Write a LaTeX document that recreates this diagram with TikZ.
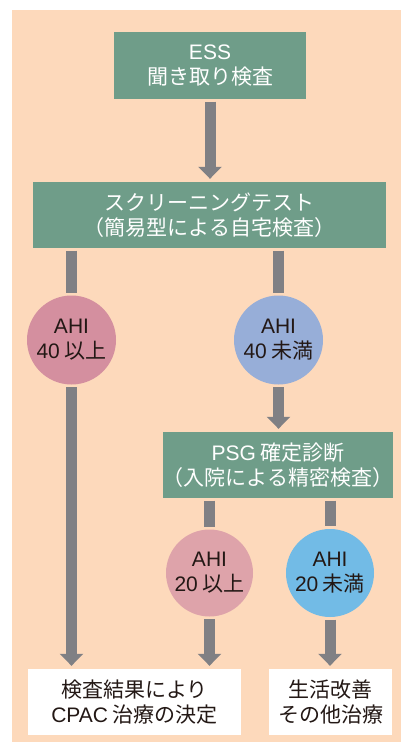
\documentclass[tikz,border=0pt]{standalone}
\usepackage{fontspec}
\setmainfont{Noto Sans CJK JP}
\newfontfamily\latinf{Liberation Sans}
\usetikzlibrary{arrows.meta}
\definecolor{peach}{HTML}{FDD9BB}
\definecolor{boxgreen}{HTML}{6F9D89}
\definecolor{arrowgray}{HTML}{808084}
\definecolor{pinkA}{HTML}{D48F9F}
\definecolor{blueA}{HTML}{97AED8}
\definecolor{pinkB}{HTML}{DEA3AA}
\definecolor{blueB}{HTML}{72BBE6}
\definecolor{darktext}{HTML}{231815}
\newcommand{\diagfont}{\fontsize{21}{25}\selectfont}
\newcommand{\lt}[1]{{\latinf #1}\hspace{0.22em}}
\tikzset{
  greenbox/.style={fill=boxgreen, text=white, inner sep=0pt, align=center, font=\diagfont},
  whitebox/.style={fill=white, text=darktext, inner sep=0pt, align=center, font=\diagfont},
  ahi/.style={circle, inner sep=0pt, align=center, text=darktext, font=\diagfont},
  shaft/.style={draw=arrowgray, line width=11pt, shorten <=2.5pt, shorten >=2.5pt},
  flowarrow/.style={draw=arrowgray, line width=11pt, shorten <=2.5pt, shorten >=3pt, -{Triangle[width=23pt,length=12pt]}}
}
\begin{document}
\begin{tikzpicture}[x=1pt,y=-1pt]
\useasboundingbox (0,0) rectangle (401,743);
\fill[white] (0,0) rectangle (401,743);
\fill[peach] (12,10) rectangle (401,742);

\node[greenbox, minimum width=192pt, minimum height=67pt] (ess) at (210,65.5) {{\latinf ESS}\\聞き取り検査};
\node[greenbox, minimum width=353pt, minimum height=66pt] (scr) at (209.5,215) {スクリーニングテスト\\（簡易型による自宅検査）};
\node[ahi, fill=pinkA, minimum size=89pt] (c1) at (71.5,340) {{\latinf AHI}\\\lt{40}以上};
\node[ahi, fill=blueA, minimum size=89pt] (c2) at (278.5,340) {{\latinf AHI}\\\lt{40}未満};
\node[greenbox, minimum width=228pt, minimum height=66pt] (psg) at (278,465) {\lt{PSG}確定診断\\（入院による精密検査）};
\node[ahi, fill=pinkB, minimum size=87pt] (c3) at (209.5,573) {{\latinf AHI}\\\lt{20}以上};
\node[ahi, fill=blueB, minimum size=88pt] (c4) at (330,573) {{\latinf AHI}\\\lt{20}未満};
\node[whitebox, minimum width=213pt, minimum height=66pt] (bl) at (134.5,702) {検査結果により\\\lt{CPAC}治療の決定};
\node[whitebox, minimum width=123pt, minimum height=66pt] (br) at (330.5,702) {生活改善\\その他治療};

\draw[flowarrow] (ess.south) -- (ess.south |- scr.north);
\draw[shaft] (c1 |- scr.south) -- (c1.north);
\draw[shaft] (c2 |- scr.south) -- (c2.north);
\draw[flowarrow] (c1.south) -- (c1.south |- bl.north);
\draw[flowarrow] (c2.south) -- (c2.south |- psg.north);
\draw[shaft] (c3 |- psg.south) -- (c3.north);
\draw[shaft] (c4 |- psg.south) -- (c4.north);
\draw[flowarrow] (c3.south) -- (c3.south |- bl.north);
\draw[flowarrow] (c4.south) -- (c4.south |- br.north);
\end{tikzpicture}
\end{document}
